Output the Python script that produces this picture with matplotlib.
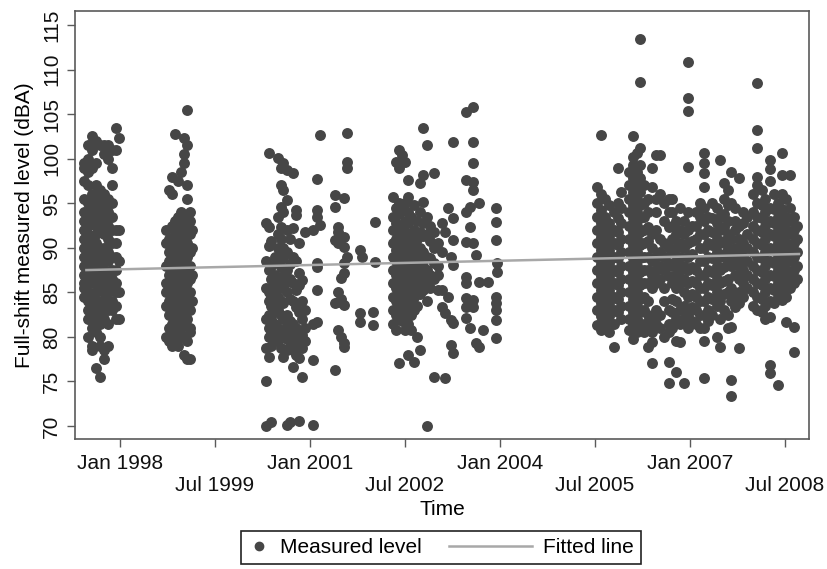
import matplotlib
matplotlib.use("Agg")
import matplotlib.pyplot as plt
from matplotlib.lines import Line2D
from matplotlib.legend_handler import HandlerLine2D

plt.rcParams['font.family'] = ['Liberation Sans', 'DejaVu Sans']

# survey dates (decimal years) and the measured levels (dBA) taken on each date
dates_1997 = [1997.43, 1997.50, 1997.56, 1997.62, 1997.69, 1997.75, 1997.81, 1997.87, 1997.94, 1997.98]
levels_1997 = [
    [99.5, 99.0, 97.5, 95.5, 94.0, 93.0, 92.0, 91.0, 90.0, 89.0, 88.0, 87.0, 86.0, 85.5, 84.5],
    [101.5, 100.0, 98.5, 97.0, 95.0, 93.5, 92.5, 91.5, 90.5, 89.5, 88.5, 87.5, 86.5, 85.0, 84.0, 83.0, 82.0, 80.0],
    [102.5, 101.0, 99.0, 96.0, 94.5, 93.0, 91.0, 90.0, 89.0, 88.0, 87.0, 86.0, 84.5, 83.5, 82.5, 81.0, 79.0, 78.5],
    [102.0, 99.5, 97.0, 95.5, 94.0, 92.5, 91.5, 90.5, 89.5, 88.5, 87.5, 86.0, 85.0, 84.0, 82.5, 81.5, 80.5, 76.5],
    [101.5, 96.5, 95.0, 93.5, 92.0, 90.0, 89.0, 88.0, 87.0, 86.5, 85.5, 84.0, 83.0, 81.5, 80.0, 79.0, 75.5],
    [101.5, 100.5, 96.0, 94.5, 93.0, 91.5, 90.0, 88.5, 87.5, 86.5, 85.0, 84.0, 83.0, 82.0, 78.5, 77.5],
    [101.5, 100.0, 95.5, 94.0, 92.5, 91.0, 89.5, 88.5, 87.0, 86.0, 85.0, 84.0, 83.0, 81.5, 79.0],
    [101.0, 99.0, 97.0, 95.0, 93.5, 92.0, 90.5, 89.0, 87.5, 86.5, 85.5, 84.0, 83.0],
    [103.5, 101.0, 92.0, 90.5, 89.0, 87.5, 86.0, 85.0, 83.5, 82.0],
    [102.3, 92.0, 88.5, 85.0, 82.0],
]

dates_1998 = [1998.73, 1998.77, 1998.82, 1998.87, 1998.92, 1998.96, 1999.01, 1999.06, 1999.11, 1999.14]
levels_1998 = [
    [92.0, 90.5, 88.0, 86.0, 85.0, 83.5, 80.0],
    [96.5, 91.0, 89.5, 88.5, 87.0, 85.5, 84.0, 82.5, 81.0, 79.5],
    [98.0, 96.0, 92.5, 90.0, 89.0, 87.5, 86.5, 85.0, 84.0, 83.0, 81.5, 80.0, 79.0],
    [102.8, 93.0, 91.5, 90.5, 89.5, 88.0, 87.0, 86.0, 84.5, 83.5, 82.0, 80.5, 79.5],
    [97.5, 93.5, 92.0, 91.0, 89.0, 88.0, 86.5, 85.5, 84.5, 83.0, 82.0, 81.0, 79.0],
    [98.5, 94.0, 92.5, 90.0, 89.0, 88.0, 87.0, 86.0, 85.0, 84.0, 82.5, 81.0, 80.0],
    [102.3, 100.5, 99.5, 93.5, 91.5, 90.5, 89.5, 88.5, 87.5, 86.5, 85.5, 84.0, 83.0, 81.5, 80.0, 78.0],
    [105.5, 101.5, 97.0, 95.5, 93.0, 92.0, 90.5, 89.0, 87.5, 86.0, 84.5, 83.5, 82.0, 79.5, 77.5],
    [94.0, 93.0, 91.5, 89.5, 88.0, 86.5, 85.0, 83.0, 81.0, 80.5, 77.5],
    [92.0, 90.0, 87.0, 84.0],
]

dates_2000 = [2000.30, 2000.35, 2000.39, 2000.44, 2000.49, 2000.54, 2000.58, 2000.63, 2000.69, 2000.73,
              2000.78, 2000.82, 2000.87, 2000.92, 2001.05, 2001.11, 2001.16, 2001.39, 2001.44, 2001.49,
              2001.53, 2001.58, 2001.79, 2001.82, 2002.00, 2002.03]
levels_2000 = [
    [92.8, 88.5, 85.5, 82.0, 78.8, 75.0, 70.0],
    [100.6, 92.3, 90.2, 87.5, 85.0, 84.0, 82.5, 81.0, 80.0, 77.7],
    [90.8, 88.0, 86.5, 85.5, 84.5, 83.5, 82.0, 80.5, 79.0, 70.4],
    [89.0, 87.0, 86.0, 84.8, 83.8, 82.8, 81.5, 80.0],
    [100.1, 93.5, 91.5, 90.0, 88.5, 86.5, 85.5, 84.5, 83.0, 81.0, 79.5],
    [99.0, 97.0, 94.6, 92.3, 91.0, 89.3, 87.8, 86.0, 84.0, 82.5, 80.5, 78.8],
    [99.5, 96.5, 94.0, 90.0, 88.8, 86.8, 85.5, 83.8, 82.0, 80.0, 77.7],
    [98.7, 95.4, 92.0, 89.5, 87.5, 86.2, 85.0, 82.5, 81.2, 79.8, 78.5, 70.1],
    [91.0, 88.2, 86.5, 84.3, 81.8, 80.3, 79.0, 70.4],
    [98.4, 92.2, 89.0, 86.0, 84.0, 81.5, 80.0, 78.5, 76.6],
    [94.2, 93.7, 88.5, 85.3, 83.3, 81.0, 79.5, 78.0],
    [90.5, 87.2, 85.8, 82.8, 80.5, 79.3, 77.6, 70.6],
    [86.4, 84.0, 82.0, 80.2, 78.8, 75.5],
    [91.8, 83.0, 81.0, 79.5],
    [92.0, 81.5, 77.4, 70.1],
    [97.7, 94.2, 93.5, 88.3, 87.8, 85.3, 81.7],
    [102.7, 92.6],
    [95.9, 94.6, 90.9, 83.8, 76.3],
    [92.3, 91.8, 90.5, 85.0, 83.9, 80.8],
    [86.6, 84.3, 80.0],
    [95.6, 91.2, 90.1, 88.3, 87.2, 83.6, 79.3, 78.9],
    [102.9, 99.6, 99.0, 89.0],
    [89.8, 82.7, 81.7],
    [89.0],
    [82.8, 81.3],
    [92.9, 88.4],
]

dates_2002 = [2002.31, 2002.36, 2002.41, 2002.45, 2002.50, 2002.55, 2002.60, 2002.64, 2002.69, 2002.74,
              2002.79, 2002.84, 2002.90, 2002.96, 2003.02, 2003.09, 2003.13, 2003.18, 2003.23, 2003.26,
              2003.47, 2003.53, 2003.58, 2003.62, 2003.67, 2003.73, 2003.81, 2003.93, 2003.96]
levels_2002 = [
    [95.7, 93.5, 92.0, 90.5, 89.0, 87.5, 86.0, 84.5, 83.0, 81.5],
    [99.6, 94.5, 92.8, 91.0, 89.8, 88.5, 87.0, 85.5, 84.0, 82.5, 80.8],
    [101.0, 99.0, 95.0, 93.8, 92.0, 90.2, 89.0, 87.8, 86.3, 85.0, 83.5, 82.0, 77.1],
    [100.4, 94.2, 92.5, 91.3, 90.0, 88.3, 87.0, 85.8, 84.3, 83.0, 81.8],
    [99.6, 95.0, 93.0, 91.8, 90.5, 89.3, 88.0, 86.5, 85.0, 83.8, 82.3, 80.8],
    [97.6, 95.7, 94.0, 92.8, 91.0, 89.8, 88.5, 87.3, 86.0, 84.5, 83.2, 81.5, 78.0],
    [93.5, 91.5, 89.0, 87.8, 86.5, 85.3, 84.0, 82.5, 80.8],
    [94.8, 92.0, 90.3, 88.8, 87.0, 85.8, 84.5, 83.0, 77.2],
    [93.0, 91.0, 89.5, 88.0, 86.8, 85.0, 83.5, 80.0],
    [97.3, 94.0, 91.8, 90.0, 88.5, 87.3, 86.0, 84.8, 78.5],
    [103.4, 98.2, 95.1, 92.8, 91.3, 89.5, 88.0, 86.8, 85.3],
    [101.5, 93.5, 91.5, 89.0, 87.5, 86.0, 84.0, 70.0],
    [92.5, 90.8, 88.8, 87.0, 85.5],
    [98.4, 91.8, 90.0, 88.3, 86.5, 75.5],
    [90.5, 88.0, 87.0, 85.3],
    [92.8, 89.5, 85.3, 83.4],
    [91.8, 82.7, 75.4],
    [94.5, 84.5],
    [89.0, 81.9, 79.1],
    [101.9, 93.3, 90.9, 88.1, 81.6, 78.2],
    [105.2, 97.6, 94.0, 90.7, 86.7, 86.0, 84.4, 83.4, 82.1],
    [94.6, 92.3, 81.0],
    [105.8, 101.9, 99.5, 97.4, 96.5, 90.5, 84.1, 83.4],
    [89.2, 79.3],
    [95.0, 86.2, 78.9],
    [80.8],
    [86.2],
    [94.5, 92.9, 90.9, 84.5, 83.8, 83.0, 81.9, 79.9],
    [88.3, 87.3],
]

dates_2005 = [2005.53, 2005.60, 2005.66, 2005.72, 2005.80, 2005.86, 2005.91, 2006.04, 2006.10, 2006.16,
              2006.21, 2006.27, 2006.34, 2006.40, 2006.47, 2006.53, 2006.59, 2006.66, 2006.72, 2006.78,
              2006.84, 2006.91, 2006.97, 2007.03, 2007.09, 2007.16, 2007.22, 2007.29, 2007.35, 2007.42,
              2007.47, 2007.54, 2007.60, 2007.65, 2007.71, 2007.77, 2007.84, 2007.90, 2008.00, 2008.06,
              2008.13, 2008.19, 2008.26, 2008.32, 2008.39, 2008.45, 2008.52, 2008.58, 2008.64, 2008.69]
levels_2005 = [
    [96.8, 95.0, 93.5, 92.0, 90.5, 89.0, 87.5, 86.0, 84.5, 83.0, 81.3],
    [102.7, 96.0, 94.2, 92.8, 91.2, 89.8, 88.2, 86.8, 85.3, 83.8, 82.3, 80.8],
    [95.5, 93.5, 92.0, 90.5, 89.0, 87.5, 86.0, 84.5, 83.0, 81.5],
    [94.8, 92.8, 91.3, 89.8, 88.3, 86.8, 85.3, 83.8, 82.3, 80.5],
    [94.0, 92.0, 90.5, 89.0, 87.5, 86.0, 84.5, 83.0, 81.5, 78.9],
    [99.0, 95.0, 93.3, 91.8, 90.3, 88.8, 87.3, 85.8, 84.3, 82.8],
    [96.3, 94.5, 92.8, 91.0, 89.5, 88.0, 86.5, 85.0, 83.5, 82.0],
    [98.5, 97.0, 95.5, 94.0, 92.5, 91.0, 89.5, 88.0, 86.5, 85.0, 83.5, 82.0, 80.8],
    [102.5, 100.2, 99.3, 97.8, 96.3, 94.8, 93.3, 91.8, 90.3, 88.8, 87.3, 85.8, 84.3, 82.8, 81.5, 79.8],
    [100.6, 98.5, 97.0, 95.5, 94.0, 92.5, 91.0, 89.5, 88.0, 86.5, 85.0, 83.5, 82.0, 80.5],
    [113.4, 108.6, 101.2, 99.3, 97.8, 96.3, 94.8, 93.3, 91.8, 90.3, 88.8, 87.3, 85.8, 84.3, 82.8, 81.3],
    [97.0, 95.0, 93.5, 92.0, 90.5, 89.0, 87.5, 86.0, 84.5, 83.0, 81.5, 80.5],
    [95.5, 94.0, 92.3, 90.8, 89.0, 87.5, 86.0, 84.0, 82.5, 81.0, 78.9],
    [99.0, 96.8, 91.5, 90.0, 88.5, 87.0, 85.5, 82.0, 80.5, 79.4, 77.1],
    [100.4, 95.5, 94.0, 92.0, 89.0, 87.5, 86.0, 83.0, 81.5],
    [100.4, 96.0, 91.0, 89.5, 88.0, 86.5, 82.5, 81.0],
    [95.0, 93.0, 90.5, 89.0, 87.5, 85.5, 84.0, 80.0],
    [95.5, 94.0, 92.3, 90.0, 88.3, 86.8, 83.0, 81.5, 80.5, 77.2, 74.8],
    [95.5, 94.0, 92.5, 91.0, 89.5, 88.0, 86.0, 84.3, 82.8, 81.0],
    [93.0, 91.5, 90.0, 88.5, 87.0, 85.5, 84.0, 82.0, 79.5, 76.1],
    [94.5, 92.0, 90.5, 89.0, 87.5, 86.0, 83.0, 81.5, 79.4],
    [93.0, 91.5, 90.0, 88.0, 86.5, 85.0, 83.5, 82.0, 74.8],
    [110.8, 106.8, 105.3, 99.1, 94.0, 92.0, 90.5, 89.0, 87.5, 86.0, 84.5, 82.5, 81.0],
    [92.5, 90.8, 89.3, 87.8, 86.3, 84.8, 83.3, 81.8],
    [94.0, 92.5, 91.0, 87.5, 86.0, 84.5, 83.0, 81.5],
    [95.0, 93.5, 91.5, 90.0, 88.5, 87.0, 85.5, 84.0, 82.5, 81.0],
    [100.6, 99.5, 98.4, 96.8, 94.5, 93.0, 91.5, 90.0, 88.5, 87.0, 85.5, 84.0, 82.5, 81.0, 79.5, 75.4],
    [93.5, 92.0, 90.5, 89.0, 87.5, 86.0, 84.5, 83.0, 81.8],
    [95.0, 93.3, 91.8, 90.3, 88.8, 87.3, 85.8, 84.3, 82.5],
    [94.5, 92.8, 91.0, 89.5, 88.0, 86.5, 85.0, 83.5, 80.0],
    [99.9, 93.5, 92.0, 90.5, 89.0, 87.5, 86.0, 84.0, 82.0, 78.9],
    [97.3, 95.5, 93.8, 92.3, 90.8, 89.3, 87.8, 86.3, 84.8, 83.0],
    [96.5, 94.8, 93.0, 91.5, 90.0, 88.5, 86.5, 85.0, 82.5, 81.0],
    [98.5, 95.0, 91.0, 89.5, 88.0, 85.5, 84.0, 81.1, 75.2, 73.4],
    [94.5, 93.0, 92.0, 90.0, 88.5, 87.0, 84.8, 83.3],
    [97.8, 92.5, 91.0, 89.5, 88.0, 86.5, 85.0, 83.8, 78.8],
    [94.0, 92.8, 90.5, 89.0, 87.5, 86.0, 84.5],
    [93.5, 91.5, 90.0, 88.5, 87.0, 85.5],
    [96.0, 94.0, 92.5, 91.0, 89.5, 88.0, 86.5, 85.0, 83.5],
    [108.5, 103.2, 101.2, 98.0, 97.0, 95.0, 93.5, 92.0, 90.5, 89.0, 87.5, 86.0, 84.5, 83.0],
    [96.5, 94.8, 93.3, 91.8, 90.3, 88.8, 87.3, 85.8, 84.3, 82.8],
    [95.5, 94.0, 92.5, 91.0, 89.5, 88.0, 86.5, 85.0, 83.5, 82.0],
    [99.9, 98.8, 97.5, 94.5, 93.0, 91.5, 90.0, 88.5, 87.0, 85.5, 84.0, 82.2, 76.8, 75.9],
    [96.0, 94.3, 92.8, 91.3, 89.8, 88.3, 86.8, 85.3, 83.8],
    [95.0, 93.5, 92.0, 90.5, 89.0, 87.5, 86.0, 84.5, 74.6],
    [100.6, 98.2, 96.0, 94.3, 92.8, 91.3, 89.8, 88.3, 86.8, 85.3, 84.1],
    [95.5, 93.5, 92.0, 90.5, 89.0, 87.5, 86.0, 84.5, 81.7],
    [98.2, 94.5, 93.0, 91.5, 90.0, 88.5, 87.0, 85.5],
    [93.5, 92.0, 90.5, 89.0, 87.5, 86.0, 81.1, 78.3],
    [92.5, 91.0, 89.5, 88.0, 86.5],
]

# fitted regression line at its two ends
fit_years = [1997.47, 2008.72]
fit_levels = [87.5, 89.3]

tick_jan = [1998.0, 2001.0, 2004.0, 2007.0]
labels_jan = ['Jan 1998', 'Jan 2001', 'Jan 2004', 'Jan 2007']
tick_jul = [1999.5, 2002.5, 2005.5, 2008.5]
labels_jul = ['Jul 1999', 'Jul 2002', 'Jul 2005', 'Jul 2008']
y_ticks = [70, 75, 80, 85, 90, 95, 100, 105, 110, 115]


def flatten(dates, levels):
    xs, ys = [], []
    for d, lv in zip(dates, levels):
        for v in lv:
            xs.append(d)
            ys.append(v)
    return xs, ys


class WideLine(HandlerLine2D):
    # stretch the line sample leftwards, like the Stata legend
    def get_xdata(self, legend, xdescent, ydescent, width, height, fontsize):
        xd, xm = super().get_xdata(legend, xdescent, ydescent, width, height, fontsize)
        return [-xdescent - 3.0 * width, width - xdescent], xm


x_all, y_all = [], []
for d, lv in [(dates_1997, levels_1997), (dates_1998, levels_1998), (dates_2000, levels_2000),
              (dates_2002, levels_2002), (dates_2005, levels_2005)]:
    xs, ys = flatten(d, lv)
    x_all += xs
    y_all += ys

dot_color = '#464646'
line_color = '#a8a8a8'
frame_color = '#5a5a5a'

fig = plt.figure(figsize=(8.27, 5.69), dpi=100)
ax = fig.add_axes([0.0907, 0.2285, 0.8873, 0.7522])

ax.scatter(x_all, y_all, s=62, color=dot_color, linewidths=0, zorder=2)
ax.plot(fit_years, fit_levels, color=line_color, lw=1.8, zorder=3)

ax.set_xlim(1997.29, 2008.875)
ax.set_ylim(68.54, 116.58)

ax.set_xticks(tick_jan)
ax.set_xticklabels(labels_jan)
ax.set_xticks(tick_jul, minor=True)
ax.set_xticklabels(labels_jul, minor=True)
ax.set_yticks(y_ticks)
ax.set_yticklabels([str(v) for v in y_ticks], rotation=90, va='center')

ax.tick_params(axis='both', which='both', direction='out', length=6, width=1,
               color=frame_color, labelsize=15, labelcolor='#111111')
ax.tick_params(axis='x', which='major', pad=5)
ax.tick_params(axis='x', which='minor', pad=21)
ax.tick_params(axis='y', pad=4)

for sp in ax.spines.values():
    sp.set_color(frame_color)
    sp.set_linewidth(1.2)

ax.set_xlabel('Time', fontsize=15, labelpad=3)
ax.set_ylabel('Full-shift measured level (dBA)', fontsize=15, labelpad=6)

dot_handle = Line2D([], [], marker='o', linestyle='none', color=dot_color, markersize=6)
line_handle = Line2D([], [], color=line_color, lw=1.8)
leg = fig.legend([dot_handle, line_handle], ['Measured level', 'Fitted line'],
                 loc='center', bbox_to_anchor=(441 / 827, 1 - 547.5 / 569), ncol=2,
                 fontsize=15, frameon=True, fancybox=False, framealpha=1,
                 handlelength=1.0, handletextpad=0.5, columnspacing=4.3,
                 borderpad=0.35, handler_map={line_handle: WideLine()})
leg.get_frame().set_edgecolor('#222222')
leg.get_frame().set_linewidth(1.2)

fig.savefig('out.png', dpi=100)
